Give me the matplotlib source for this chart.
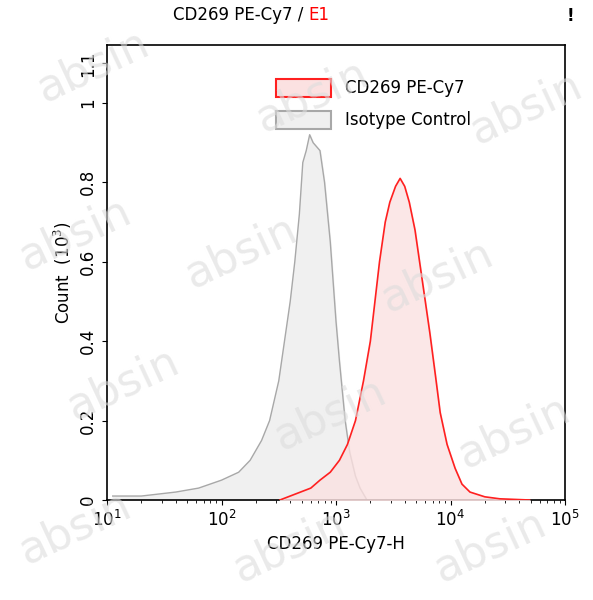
import matplotlib
matplotlib.use("Agg")
import matplotlib.pyplot as plt
import numpy as np

iso_logx = [1.05,1.3,1.6,1.8,2.0,2.15,2.25,2.35,2.42,2.5,2.55,2.6,2.64,2.68,2.71,2.74,2.77,2.8,2.83,2.86,2.9,2.95,3.0,3.03,3.08,3.12,3.17,3.21,3.27]
iso_y    = [0.01,0.01,0.02,0.03,0.05,0.07,0.10,0.15,0.20,0.30,0.40,0.50,0.60,0.72,0.85,0.88,0.92,0.90,0.89,0.88,0.80,0.65,0.45,0.35,0.20,0.12,0.06,0.03,0.0]
red_logx = [2.51,2.6,2.69,2.78,2.86,2.95,3.03,3.1,3.17,3.24,3.30,3.34,3.38,3.43,3.47,3.52,3.56,3.6,3.64,3.69,3.73,3.78,3.82,3.87,3.91,3.97,4.04,4.1,4.17,4.3,4.43,4.69]
red_y    = [0.0,0.01,0.02,0.03,0.05,0.07,0.10,0.14,0.20,0.30,0.40,0.50,0.60,0.70,0.75,0.79,0.81,0.79,0.75,0.68,0.60,0.50,0.42,0.31,0.22,0.14,0.08,0.04,0.02,0.008,0.003,0.0]

fig = plt.figure(figsize=(5.93,6.0), dpi=100)
ax = fig.add_axes([107/593, 1-500/600, 458/593, 455/600])
ix = 10**np.array(iso_logx); rx = 10**np.array(red_logx)
ax.fill_between(ix, iso_y, color="#f0f0f0", zorder=1)
ax.plot(ix, iso_y, color="#a8a8a8", lw=1, zorder=2)
ax.fill_between(rx, red_y, color="#fbe1e1", alpha=0.8, zorder=3)
ax.plot(rx, red_y, color="#ff2020", lw=1.2, zorder=4)
ax.set_xscale("log")
ax.set_xlim(10, 1e5)
ax.set_ylim(0, 1.146)
ax.set_yticks([0,0.2,0.4,0.6,0.8,1,1.1])
ax.set_yticklabels(["0","0.2","0.4","0.6","0.8","1","1.1"], rotation=90, va="center")
ax.set_xticks([10,100,1000,1e4,1e5])
ax.set_xticklabels([r"$10^1$",r"$10^2$",r"$10^3$",r"$10^4$",r"$10^5$"])
ax.tick_params(labelsize=12)
ax.set_xlabel("CD269 PE-Cy7-H", fontsize=12)
ax.set_ylabel(r"Count  $(10^3)$", fontsize=12)
for s in ax.spines.values(): s.set_linewidth(1.2)
from matplotlib.patches import Rectangle
ax.add_patch(Rectangle((0.37,0.885),0.12,0.04,transform=ax.transAxes,facecolor="#fbe1e1",edgecolor="#ff2020",lw=1.5))
ax.text(0.52,0.905,"CD269 PE-Cy7",transform=ax.transAxes,fontsize=12,va="center")
ax.add_patch(Rectangle((0.37,0.815),0.12,0.04,transform=ax.transAxes,facecolor="#f0f0f0",edgecolor="#a8a8a8",lw=1.5))
ax.text(0.52,0.835,"Isotype Control",transform=ax.transAxes,fontsize=12,va="center")
fig.text(0.52,0.975,"CD269 PE-Cy7 / ",ha="right",va="center",fontsize=12)
fig.text(0.52,0.975,"E1",ha="left",va="center",fontsize=12,color="red")
fig.text(0.955,0.965,"!",fontsize=12,fontweight="bold")
for (x,y) in [(0.05,0.83),(0.42,0.78),(0.78,0.76),(0.02,0.55),(0.3,0.52),(0.63,0.48),(0.1,0.3),(0.45,0.25),(0.76,0.22),(0.02,0.06),(0.38,0.03),(0.72,0.03)]:
    fig.text(x,y,"absin",fontsize=32,color="#dcdcdc",alpha=0.6,rotation=25,zorder=10)
fig.savefig("out.png", dpi=100)
